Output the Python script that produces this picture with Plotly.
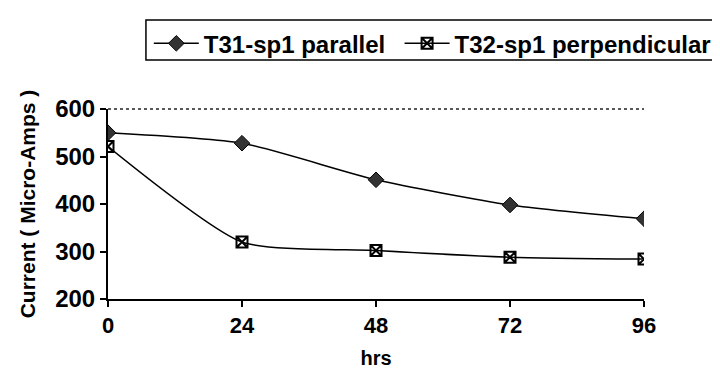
import plotly.graph_objects as go

hrs = [0, 24, 48, 72, 96]
parallel = [550, 528, 451, 398, 369]
perpendicular = [521, 320, 302, 288, 284]
x_ticks = [0, 24, 48, 72, 96]
y_ticks = [200, 300, 400, 500, 600]

font = dict(family="Liberation Sans, Arial", color="black", size=20, weight="bold")

fig = go.Figure()
fig.add_trace(go.Scatter(
    x=hrs, y=parallel, name="T31-sp1 parallel", legend="legend",
    mode="lines+markers", line=dict(color="black", width=1.5, shape="spline", smoothing=0.6),
    marker=dict(symbol="diamond", size=12, color="#333", line=dict(color="black", width=1)),
))
fig.add_trace(go.Scatter(
    x=hrs, y=perpendicular, name="T32-sp1 perpendicular", legend="legend2",
    mode="lines+markers", line=dict(color="black", width=1.5, shape="spline", smoothing=0.6),
    marker=dict(symbol="square-x-open", size=11, color="black", line=dict(width=2)),
))

# dotted frame on top of plot area
fig.add_shape(type="line", xref="paper", yref="paper", x0=0, x1=1, y0=1, y1=1,
              line=dict(color="#222", width=1.5, dash="dot"))
# legend box
fig.add_shape(type="rect", xref="paper", yref="paper", x0=0.0708, x1=1.2, y0=1.258, y1=1.468,
              line=dict(color="black", width=1.5))

leg = dict(orientation="h", xanchor="left", yanchor="top", y=1.462,
           font=dict(size=24, weight="bold"), itemwidth=45, bgcolor="rgba(0,0,0,0)")

fig.update_layout(
    width=720, height=379,
    margin=dict(l=100, r=83, t=101, b=88),
    paper_bgcolor="white", plot_bgcolor="white",
    font=font,
    legend=dict(leg, x=0.076),
    legend2=dict(leg, x=0.543),
    showlegend=True,
)
fig.update_xaxes(
    range=[0, 96], tickvals=x_ticks, showgrid=False, zeroline=False,
    showline=True, linecolor="black", linewidth=2,
    ticks="outside", ticklen=6, tickcolor="black", tickwidth=1.5,
    title=dict(text="hrs", standoff=14, font=dict(size=20, weight="bold")),
    tickfont=dict(size=22, weight="bold"),
)
fig.update_yaxes(
    range=[200, 600], tickvals=y_ticks, showgrid=False, zeroline=False,
    showline=True, linecolor="black", linewidth=2,
    ticks="outside", ticklen=6, tickcolor="black", tickwidth=1.5,
    title=dict(text="Current ( Micro-Amps )", standoff=14, font=dict(size=21, weight="bold")),
    tickfont=dict(size=24, weight="bold"),
)

fig.write_html("out.html")
